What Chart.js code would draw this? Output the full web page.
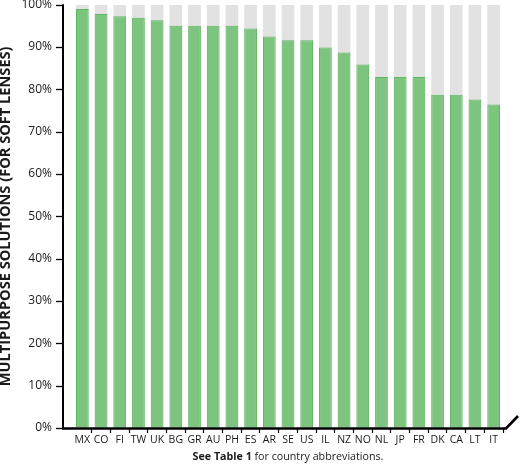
<!DOCTYPE html>
<html>
<head>
<meta charset="utf-8">
<script src="https://cdn.jsdelivr.net/npm/chart.js@4"></script>
<style>
html,body{margin:0;padding:0;background:#fff;}
#wrap{position:relative;width:522px;height:467px;}
</style>
</head>
<body>
<div id="wrap"><canvas id="c" width="522" height="467"></canvas></div>
<script>
const countries = ['MX','CO','FI','TW','UK','BG','GR','AU','PH','ES','AR','SE','US','IL','NZ','NO','NL','JP','FR','DK','CA','LT','IT'];
const mpsShare = [99.0,97.8,97.3,96.9,96.3,95.0,95.0,95.0,95.0,94.4,92.5,91.6,91.6,89.9,88.7,85.9,82.9,82.9,82.9,78.7,78.7,77.6,76.4];
const fullScale = [100,100,100,100,100,100,100,100,100,100,100,100,100,100,100,100,100,100,100,100,100,100,100];
const yTicks = [0,10,20,30,40,50,60,70,80,90,100];
const yTitle = 'MULTIPURPOSE SOLUTIONS (FOR SOFT LENSES)';
const captionBold = 'See Table 1';
const captionRest = ' for country abbreviations.';

const AXIS_GAP = 10;

const axesPlugin = {
  id: 'axesPlugin',
  afterDraw(chart) {
    const ctx = chart.ctx;
    const ca = chart.chartArea;
    const y = chart.scales.y;
    const axisX = ca.left - AXIS_GAP;
    ctx.save();
    ctx.strokeStyle = '#000';
    ctx.lineCap = 'butt';
    ctx.lineWidth = 1.3;
    yTicks.forEach(v => {
      const py = Math.round(y.getPixelForValue(v)) + 0.5;
      ctx.beginPath();
      ctx.moveTo(axisX - 7, py);
      ctx.lineTo(axisX, py);
      ctx.stroke();
    });
    ctx.lineWidth = 2;
    ctx.beginPath();
    ctx.moveTo(axisX, y.getPixelForValue(100) - 0.5);
    ctx.lineTo(axisX, ca.bottom + 1);
    ctx.stroke();
    ctx.lineWidth = 2.6;
    ctx.beginPath();
    ctx.moveTo(axisX - 1, ca.bottom + 0.5);
    ctx.lineTo(ca.right + 3, ca.bottom + 0.5);
    ctx.lineTo(ca.right + 15, ca.bottom - 12);
    ctx.stroke();
    const cx = (ca.left + ca.right) / 2;
    const fb = 'bold 10.7px "Open Sans"';
    const fr = '10.7px "Open Sans"';
    ctx.font = fb; const wb = ctx.measureText(captionBold).width;
    ctx.font = fr; const wr = ctx.measureText(captionRest).width;
    let sx = cx - (wb + wr) / 2;
    ctx.fillStyle = '#1a1a1a';
    ctx.textBaseline = 'middle';
    ctx.textAlign = 'left';
    ctx.font = fb; ctx.fillText(captionBold, sx, 457);
    ctx.font = fr; ctx.fillText(captionRest, sx + wb, 457);
    ctx.restore();
  }
};

new Chart(document.getElementById('c'), {
  type: 'bar',
  data: {
    labels: countries,
    datasets: [
      {
        label: 'Multipurpose solutions',
        data: mpsShare,
        backgroundColor: '#7dc57f',
        borderColor: '#5db760',
        borderWidth: {top: 1, left: 1, right: 1, bottom: 0},
        barPercentage: 0.68,
        categoryPercentage: 1,
        order: 1
      },
      {
        label: 'Total',
        data: fullScale,
        backgroundColor: '#e2e2e2',
        borderWidth: 0,
        barPercentage: 0.68,
        categoryPercentage: 1,
        order: 2
      }
    ]
  },
  options: {
    responsive: false,
    animation: false,
    devicePixelRatio: 1,
    layout: { padding: { left: 0, right: 19, top: 0, bottom: 0 } },
    plugins: { legend: { display: false }, tooltip: { enabled: false } },
    scales: {
      x: {
        stacked: true,
        offset: true,
        border: { display: false },
        grid: {
          offset: true,
          drawOnChartArea: false,
          drawTicks: true,
          tickLength: 5,
          tickWidth: 1.2,
          tickColor: (ctx) => (ctx.index === 0 || ctx.index >= countries.length) ? 'rgba(0,0,0,0)' : '#000'
        },
        ticks: {
          padding: 1,
          color: '#1a1a1a',
          autoSkip: false,
          maxRotation: 0,
          font: { family: '"Liberation Sans Narrow", "Open Sans", sans-serif', size: 10.5 }
        },
        afterFit(scale) { scale.height = 39; }
      },
      y: {
        stacked: false,
        min: 0,
        max: 100,
        border: { display: false },
        grid: { display: true, drawOnChartArea: false, drawTicks: true, tickLength: 23.5, tickColor: 'rgba(0,0,0,0)', color: 'rgba(0,0,0,0)' },
        afterBuildTicks(scale) { scale.ticks = yTicks.map(v => ({ value: v })); },
        ticks: {
          padding: -2.5,
          color: '#1a1a1a',
          font: { family: '"Open Sans", sans-serif', size: 12 },
          callback: (v) => v + '%'
        },
        title: {
          display: true,
          text: yTitle,
          color: '#1a1a1a',
          font: { family: '"Open Sans", sans-serif', size: 14.6, weight: 'bold', lineHeight: 1 },
          padding: { top: -1, bottom: 0 }
        },
        afterFit(scale) { scale.width = 73; }
      }
    }
  },
  plugins: [axesPlugin]
});
</script>
</body>
</html>
